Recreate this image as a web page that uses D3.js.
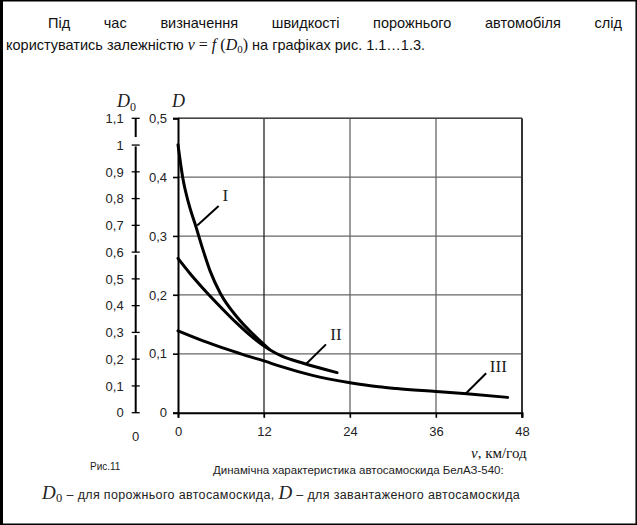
<!DOCTYPE html>
<html>
<head>
<meta charset="utf-8">
<script src="https://cdn.jsdelivr.net/npm/d3@7/dist/d3.min.js"></script>
<style>
  html, body { margin: 0; padding: 0; background: #fff; }
  svg { display: block; }
</style>
</head>
<body>
<svg id="chart" width="637" height="525"></svg>
<script>
// Speed axis (km/h) ticks and D / D0 axis ticks
const speedTicks = [0, 12, 24, 36, 48];
const dTicks = [0, 0.1, 0.2, 0.3, 0.4, 0.5];
const d0Ticks = [0, 0.1, 0.2, 0.3, 0.4, 0.5, 0.6, 0.7, 0.8, 0.9, 1, 1.1];

// Dynamic factor D versus speed v for gears I, II, III
const gearI_v = [0, 0.65, 1.5, 2.5, 3.4, 4.5, 5.9, 8.2, 10.5, 12.7];
const gearI_D = [0.455, 0.400, 0.355, 0.316, 0.280, 0.240, 0.203, 0.163, 0.133, 0.108];
const gearII_v = [0, 1.7, 3.5, 5.9, 8.2, 10.5, 12.8, 14.5, 17.5, 22.2];
const gearII_D = [0.262, 0.236, 0.211, 0.180, 0.152, 0.127, 0.107, 0.096, 0.084, 0.068];
const gearIII_v = [0, 3.5, 7, 9.5, 12, 14.2, 18.9, 24, 28, 30.5, 36, 40.3, 46];
const gearIII_D = [0.139, 0.122, 0.107, 0.097, 0.088, 0.079, 0.063, 0.051, 0.044, 0.041, 0.036, 0.032, 0.026];

// Curve labels: [name, anchor v, anchor D, leader end v, leader end D, text v, text D]
const curveLabels = [
  ["I",   2.68, 0.318, 5.67, 0.351, 6.6,  0.369],
  ["II",  17.8, 0.082, 20.65, 0.116, 22.05, 0.134],
  ["III", 40.2, 0.033, 43.0, 0.067, 44.7, 0.079]
];

const svg = d3.select("#chart");
const sans = "'Liberation Sans', Arial, sans-serif";
const serif = "'Liberation Serif', 'Times New Roman', serif";

// Page frame
const frame = svg.append("g").attr("stroke", "#000").attr("fill", "none");
frame.append("line").attr("x1", 1.5).attr("y1", 0).attr("x2", 1.5).attr("y2", 525).attr("stroke-width", 3);
frame.append("line").attr("x1", 0).attr("y1", 0.75).attr("x2", 637).attr("y2", 0.75).attr("stroke-width", 1.5);
frame.append("line").attr("x1", 636.2).attr("y1", 0).attr("x2", 636.2).attr("y2", 525).attr("stroke-width", 1.5);
frame.append("line").attr("x1", 0).attr("y1", 524.2).attr("x2", 637).attr("y2", 524.2).attr("stroke-width", 1.5);

// Paragraph text, first line justified between two edges
const line1 = ["Під", "час", "визначення", "швидкості", "порожнього", "автомобіля", "слід"];
const l1 = svg.append("g").attr("font-family", sans).attr("font-size", 14.5).attr("fill", "#111");
const words = l1.selectAll("text").data(line1).join("text").attr("y", 28).text(d => d);
const widths = [];
words.each(function() { widths.push(this.getComputedTextLength()); });
const left = 48, right = 622;
const gap = (right - left - d3.sum(widths)) / (line1.length - 1);
let cx = left;
words.attr("x", (d, i) => { const x = cx; cx += widths[i] + gap; return x; });

const l2 = svg.append("text").attr("x", 6).attr("y", 50).attr("font-family", sans).attr("font-size", 14.5).attr("fill", "#111");
l2.append("tspan").text("користуватись залежністю ");
l2.append("tspan").attr("font-family", serif).attr("font-style", "italic").attr("font-size", 16).text("v");
l2.append("tspan").attr("font-family", serif).attr("font-size", 16).text(" = ");
l2.append("tspan").attr("font-family", serif).attr("font-style", "italic").attr("font-size", 16).text("f");
l2.append("tspan").attr("font-family", serif).attr("font-size", 16).text(" (");
l2.append("tspan").attr("font-family", serif).attr("font-style", "italic").attr("font-size", 16).text("D");
l2.append("tspan").attr("font-family", serif).attr("font-size", 11).attr("dy", 3).text("0");
l2.append("tspan").attr("font-family", serif).attr("font-size", 16).attr("dy", -3).text(")");
l2.append("tspan").text(" на графіках рис. 1.1…1.3.");

// Scales
const x = d3.scaleLinear().domain([0, 48]).range([178, 522]);
const yD = d3.scaleLinear().domain([0, 0.5]).range([412.7, 118.3]);
const yD0 = d3.scaleLinear().domain([0, 1.1]).range([412.7, 118.3]);

// Grid
const grid = svg.append("g").attr("stroke", "#666").attr("stroke-width", 1.3);
grid.selectAll("line.h").data(dTicks.filter(d => d > 0)).join("line")
  .attr("x1", x(0) - 5).attr("x2", x(48)).attr("y1", d => yD(d)).attr("y2", d => yD(d));
grid.selectAll("line.v").data(speedTicks.filter(d => d > 0 && d < 48)).join("line")
  .attr("x1", d => x(d)).attr("x2", d => x(d)).attr("y1", yD(0.5)).attr("y2", yD(0) + 5)
  .attr("stroke", (d, i) => i === 0 ? "#222" : "#666");
// right and top border of the plot
svg.append("line").attr("x1", x(48)).attr("x2", x(48)).attr("y1", yD(0.5)).attr("y2", yD(0) + 5)
  .attr("stroke", "#333").attr("stroke-width", 2);
svg.append("line").attr("x1", x(0)).attr("x2", x(48)).attr("y1", yD(0.5)).attr("y2", yD(0.5))
  .attr("stroke", "#444").attr("stroke-width", 1.5);

// D axis (left edge of plot) and speed axis
const axD = d3.axisLeft(yD).tickValues(dTicks).tickSize(5).tickPadding(6)
  .tickFormat(d => d3.format(".1f")(d).replace(".", ",").replace(/^0,0$/, "0"));
const gD = svg.append("g").attr("transform", `translate(${x(0)},0)`).call(axD);
gD.select(".domain").attr("stroke", "#000").attr("stroke-width", 2);
gD.selectAll(".tick line").attr("stroke", "#000").attr("stroke-width", 1.3);
gD.selectAll(".tick text").attr("font-family", sans).attr("font-size", 13).attr("fill", "#222");

const axV = d3.axisBottom(x).tickValues(speedTicks).tickSize(5).tickPadding(9);
const gV = svg.append("g").attr("transform", `translate(0,${yD(0)})`).call(axV);
gV.select(".domain").attr("stroke", "#000").attr("stroke-width", 2);
gV.selectAll(".tick line").attr("stroke", "#000").attr("stroke-width", 1.3);
gV.selectAll(".tick text").attr("font-family", sans).attr("font-size", 13).attr("fill", "#222");

// D0 axis, drawn as separate pieces with small breaks
const axX = 135.7;
const d0Pieces = [[1.1, 1.03], [0.995, 0.6], [0.59, 0.3], [0.29, 0]];
svg.append("g").selectAll("line").data(d0Pieces).join("line")
  .attr("x1", axX).attr("x2", axX).attr("y1", d => yD0(d[0])).attr("y2", d => yD0(d[1]))
  .attr("stroke", "#000").attr("stroke-width", 2);
const gD0 = svg.append("g");
gD0.selectAll("line").data(d0Ticks).join("line")
  .attr("x1", axX - 4).attr("x2", axX + 4).attr("y1", d => yD0(d)).attr("y2", d => yD0(d))
  .attr("stroke", "#000").attr("stroke-width", 1.3);
gD0.selectAll("text").data(d0Ticks).join("text")
  .attr("x", axX - 12).attr("y", d => yD0(d)).attr("dy", "0.36em").attr("text-anchor", "end")
  .attr("font-family", sans).attr("font-size", 13).attr("fill", "#222")
  .text(d => d === 0 ? "0" : d3.format("~g")(d).replace(".", ","));
svg.append("text").attr("x", axX).attr("y", yD(0) + 28).attr("text-anchor", "middle")
  .attr("font-family", sans).attr("font-size", 13).attr("fill", "#222").text("0");

// Axis titles
const t0 = svg.append("text").attr("x", 117).attr("y", 107).attr("font-family", serif).attr("font-size", 18).attr("fill", "#222");
t0.append("tspan").attr("font-style", "italic").text("D");
t0.append("tspan").attr("font-size", 12).attr("dy", 4).text("0");
svg.append("text").attr("x", 172).attr("y", 107).attr("font-family", serif).attr("font-size", 18)
  .attr("font-style", "italic").attr("fill", "#222").text("D");
const tv = svg.append("text").attr("x", 471).attr("y", 458).attr("font-family", serif).attr("font-size", 15).attr("fill", "#111");
tv.append("tspan").attr("font-style", "italic").text("v");
tv.append("tspan").text(", км/год");

// Curves
const line = d3.line().x(d => x(d[0])).y(d => yD(d[1])).curve(d3.curveMonotoneX);
const series = [
  d3.zip(gearI_v, gearI_D),
  d3.zip(gearII_v, gearII_D),
  d3.zip(gearIII_v, gearIII_D)
];
svg.append("g").selectAll("path").data(series).join("path")
  .attr("d", line).attr("fill", "none").attr("stroke", "#000").attr("stroke-width", 3)
  .attr("stroke-linecap", "round");

// Curve labels with leaders
const lab = svg.append("g");
lab.selectAll("line").data(curveLabels).join("line")
  .attr("x1", d => x(d[1])).attr("y1", d => yD(d[2])).attr("x2", d => x(d[3])).attr("y2", d => yD(d[4]))
  .attr("stroke", "#000").attr("stroke-width", 2);
lab.selectAll("text").data(curveLabels).join("text")
  .attr("x", d => x(d[5])).attr("y", d => yD(d[6])).attr("dy", "0.35em").attr("text-anchor", "middle")
  .attr("font-family", serif).attr("font-size", 17).attr("fill", "#222").text(d => d[0]);

// Caption
svg.append("text").attr("x", 90).attr("y", 470).attr("font-family", sans).attr("font-size", 10).attr("fill", "#222").text("Рис.11");
svg.append("text").attr("x", 213).attr("y", 474).attr("font-family", sans).attr("font-size", 11.5).attr("fill", "#222")
  .text("Динамічна характеристика автосамоскида БелАЗ-540:");
const c3 = svg.append("text").attr("x", 42).attr("y", 499).attr("font-family", sans).attr("font-size", 12.5)
  .attr("letter-spacing", 0.35).attr("fill", "#222");
c3.append("tspan").attr("font-family", serif).attr("font-style", "italic").attr("font-size", 19).text("D");
c3.append("tspan").attr("font-family", serif).attr("font-size", 12.5).attr("dy", 3).text("0");
c3.append("tspan").attr("dy", -3).text(" – для порожнього автосамоскида, ");
c3.append("tspan").attr("font-family", serif).attr("font-style", "italic").attr("font-size", 19).text("D");
c3.append("tspan").text(" – для завантаженого автосамоскида");
</script>
</body>
</html>
